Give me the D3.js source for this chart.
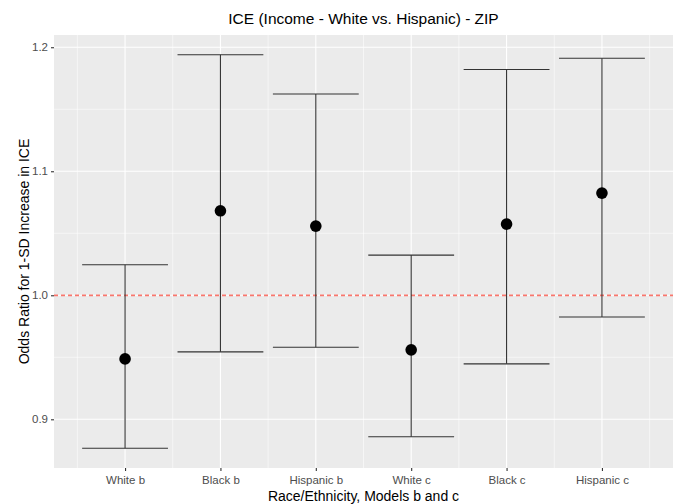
<!DOCTYPE html>
<html>
<head>
<meta charset="utf-8">
<script src="https://cdn.jsdelivr.net/npm/d3@7"></script>
<style>
  body { margin: 0; background: #fff; }
  svg { display: block; font-family: "Liberation Sans", Arial, sans-serif; }
</style>
</head>
<body>
<div id="chart"></div>
<script>
// DATA
const categories = ['White b', 'Black b', 'Hispanic b', 'White c', 'Black c', 'Hispanic c'];
const oddsRatio = [0.9487, 1.0681, 1.0558, 0.9560, 1.0574, 1.0824];
const lowerCI   = [0.8766, 0.9544, 0.9581, 0.8859, 0.9447, 0.9825];
const upperCI   = [1.0246, 1.1940, 1.1623, 1.0324, 1.1820, 1.1911];
const yTicks = [0.9, 1.0, 1.1, 1.2];
const yMinor = [0.95, 1.05, 1.15];
const refLine = 1.0;

// SETUP
const chartParam = {
  width: 678,
  height: 504,
  margin: { top: 35, right: 5, bottom: 36, left: 54 }
};
const panelW = chartParam.width - chartParam.margin.left - chartParam.margin.right;
const panelH = chartParam.height - chartParam.margin.top - chartParam.margin.bottom;

const svg = d3.select('#chart')
              .append('svg')
              .attr('width', chartParam.width)
              .attr('height', chartParam.height);

// ggplot-like expansion: errorbar width 0.9, 5% padding
const barW = 0.9;
const xLo = 1 - barW / 2, xHi = categories.length + barW / 2;
const xPad = (xHi - xLo) * 0.05;
const x = d3.scaleLinear()
            .domain([xLo - xPad, xHi + xPad])
            .range([0, panelW]);

const yLo = d3.min(lowerCI), yHi = d3.max(upperCI);
const yPad = (yHi - yLo) * 0.05;
const y = d3.scaleLinear()
            .domain([yLo - yPad, yHi + yPad])
            .range([panelH, 0]);

const g = svg.append('g')
             .attr('transform', `translate(${chartParam.margin.left},${chartParam.margin.top})`);

// panel
g.append('rect')
 .attr('width', panelW)
 .attr('height', panelH)
 .attr('fill', '#EBEBEB');

// minor grid
const xMinor = d3.range(0.5, categories.length + 1, 1);
g.selectAll('.xminor').data(xMinor).enter().append('line')
 .attr('x1', d => x(d)).attr('x2', d => x(d))
 .attr('y1', 0).attr('y2', panelH)
 .attr('stroke', '#fff').attr('stroke-width', 0.55);
g.selectAll('.yminor').data(yMinor).enter().append('line')
 .attr('x1', 0).attr('x2', panelW)
 .attr('y1', d => y(d)).attr('y2', d => y(d))
 .attr('stroke', '#fff').attr('stroke-width', 0.55);

// major grid
g.selectAll('.xmajor').data(categories).enter().append('line')
 .attr('x1', (d, i) => x(i + 1)).attr('x2', (d, i) => x(i + 1))
 .attr('y1', 0).attr('y2', panelH)
 .attr('stroke', '#fff').attr('stroke-width', 1.1);
g.selectAll('.ymajor').data(yTicks).enter().append('line')
 .attr('x1', 0).attr('x2', panelW)
 .attr('y1', d => y(d)).attr('y2', d => y(d))
 .attr('stroke', '#fff').attr('stroke-width', 1.1);

// reference line
g.append('line')
 .attr('x1', 0).attr('x2', panelW)
 .attr('y1', y(refLine)).attr('y2', y(refLine))
 .attr('stroke', '#F8766D')
 .attr('stroke-width', 1.8)
 .attr('stroke-dasharray', '4,3');

// error bars
const bars = g.selectAll('.bar').data(categories).enter().append('g');
bars.append('line')
    .attr('x1', (d, i) => x(i + 1)).attr('x2', (d, i) => x(i + 1))
    .attr('y1', (d, i) => y(lowerCI[i])).attr('y2', (d, i) => y(upperCI[i]))
    .attr('stroke', '#333').attr('stroke-width', 1.1);
bars.append('line')
    .attr('x1', (d, i) => x(i + 1 - barW / 2)).attr('x2', (d, i) => x(i + 1 + barW / 2))
    .attr('y1', (d, i) => y(upperCI[i])).attr('y2', (d, i) => y(upperCI[i]))
    .attr('stroke', '#333').attr('stroke-width', 1.1);
bars.append('line')
    .attr('x1', (d, i) => x(i + 1 - barW / 2)).attr('x2', (d, i) => x(i + 1 + barW / 2))
    .attr('y1', (d, i) => y(lowerCI[i])).attr('y2', (d, i) => y(lowerCI[i]))
    .attr('stroke', '#333').attr('stroke-width', 1.1);
bars.append('circle')
    .attr('cx', (d, i) => x(i + 1))
    .attr('cy', (d, i) => y(oddsRatio[i]))
    .attr('r', 5.8)
    .attr('fill', '#000');

// axes
const xAxis = d3.axisBottom(x)
                .tickValues(d3.range(1, categories.length + 1))
                .tickFormat(d => categories[d - 1])
                .tickSize(3).tickPadding(5);
const yAxis = d3.axisLeft(y)
                .tickValues(yTicks)
                .tickFormat(d3.format('.1f'))
                .tickSize(3).tickPadding(3);

const gx = g.append('g').attr('transform', `translate(0,${panelH})`).call(xAxis);
const gy = g.append('g').call(yAxis);
[gx, gy].forEach(a => {
  a.select('.domain').remove();
  a.selectAll('.tick line').attr('stroke', '#333').attr('stroke-width', 1.1);
  a.selectAll('.tick text')
   .attr('fill', '#4D4D4D')
   .style('font-size', '11.5px')
   .style('font-family', '"Liberation Sans", Arial, sans-serif');
});

// titles
svg.append('text')
   .attr('x', chartParam.margin.left + panelW / 2)
   .attr('y', 24)
   .attr('text-anchor', 'middle')
   .style('font-size', '15.5px')
   .attr('fill', '#000')
   .text('ICE (Income - White vs. Hispanic) - ZIP');

svg.append('text')
   .attr('x', chartParam.margin.left + panelW / 2)
   .attr('y', 501)
   .attr('text-anchor', 'middle')
   .style('font-size', '14px')
   .attr('fill', '#000')
   .text('Race/Ethnicity, Models b and c');

svg.append('text')
   .attr('transform', `translate(29,${chartParam.margin.top + panelH / 2}) rotate(-90)`)
   .attr('text-anchor', 'middle')
   .style('font-size', '14px')
   .attr('fill', '#000')
   .text('Odds Ratio for 1-SD Increase in ICE');
</script>
</body>
</html>
